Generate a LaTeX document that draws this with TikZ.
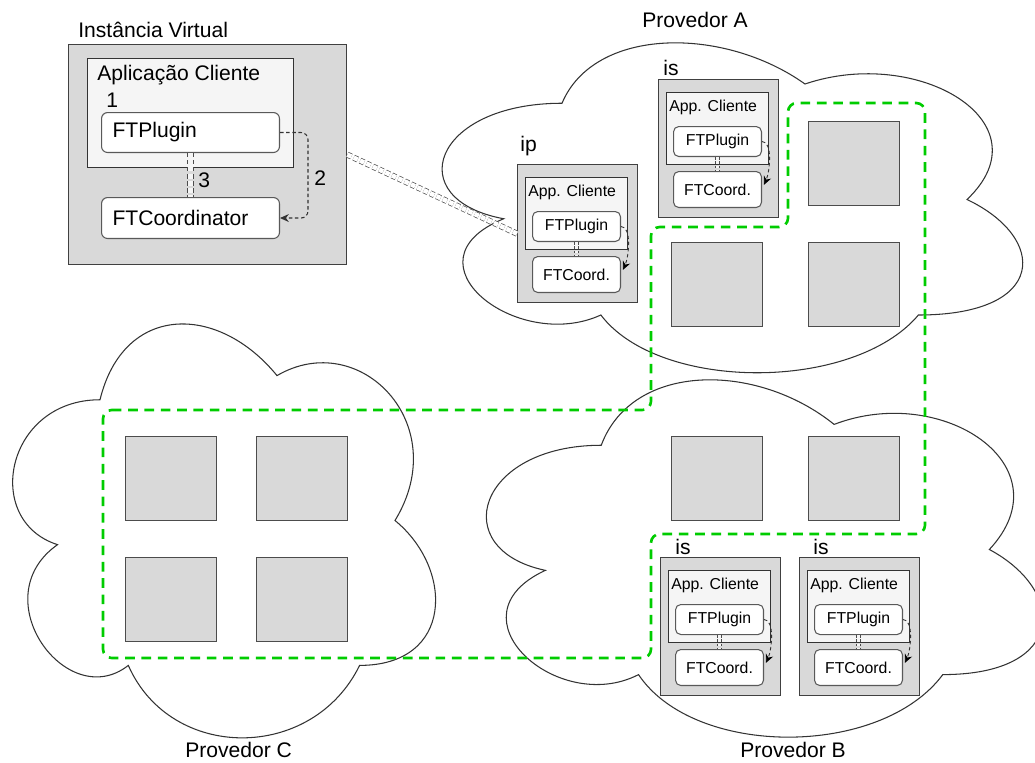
\documentclass[tikz,border=0pt]{standalone}
\usepackage{fontspec}
\setmainfont{Liberation Sans}
\usetikzlibrary{arrows.meta}

\definecolor{bereichgruen}{RGB}{0,204,0}
\definecolor{kastengrau}{RGB}{217,217,217}
\definecolor{appgrau}{RGB}{245,245,245}

\newcommand\schriftgross{\fontsize{12}{14}\selectfont}
\newcommand\schriftklein{\fontsize{9}{11}\selectfont}

\tikzset{
	wolke/.style={draw=black!80,fill=white,line width=0.6pt},
	bereich/.style={draw=bereichgruen,line width=1.5pt,dash pattern=on 5.5pt off 3.8pt,rounded corners=5pt},
	kasten/.style={draw=black!75,fill=kastengrau,line width=0.8pt,anchor=north west,inner sep=0pt},
	app/.style={draw=black!80,fill=appgrau,line width=0.7pt,anchor=north west,inner sep=0pt},
	modul/.style={draw=black!65,fill=white,rounded corners=3pt,line width=0.6pt,anchor=north west,inner sep=0pt,font=\schriftklein},
	grossmodul/.style={modul,font=\schriftgross,rounded corners=3.5pt,inner xsep=0.22cm,text width=3.12cm,align=left},
	quadrat/.style={draw=black!70,fill=kastengrau,line width=0.8pt,anchor=north west,inner sep=0pt,minimum width=1.82cm,minimum height=1.68cm},
	gross/.style={font=\schriftgross,inner sep=0pt,anchor=base west},
	klein/.style={font=\schriftklein,inner sep=0pt,anchor=base west},
	doppel/.style={draw=black!70,line width=0.4pt,double=white,double distance=2.6pt,dash pattern=on 2.5pt off 1.5pt},
	doppelklein/.style={doppel,double=appgrau,double distance=2pt,dash pattern=on 1.5pt off 1pt},
	pfeil/.style={->,draw=black!80,line width=0.6pt,dash pattern=on 2pt off 1.5pt},
	pfeilklein/.style={pfeil,-{Stealth[length=5pt,width=4.5pt,black]},line width=0.5pt}
}

\def\d{0.02}

\def\wolke#1#2#3#4{
	\draw[wolke] ({(#1+0.25*#3)*\d},{(#2+0.25*#4)*\d})
	.. controls ({(#1+0.05*#3)*\d},{(#2+0.25*#4)*\d}) and ({#1*\d},{(#2+0.5*#4)*\d}) .. ({(#1+0.16*#3)*\d},{(#2+0.55*#4)*\d})
	.. controls ({#1*\d},{(#2+0.66*#4)*\d}) and ({(#1+0.18*#3)*\d},{(#2+0.9*#4)*\d}) .. ({(#1+0.31*#3)*\d},{(#2+0.8*#4)*\d})
	.. controls ({(#1+0.4*#3)*\d},{(#2+#4)*\d}) and ({(#1+0.7*#3)*\d},{(#2+#4)*\d}) .. ({(#1+0.8*#3)*\d},{(#2+0.8*#4)*\d})
	.. controls ({(#1+#3)*\d},{(#2+0.8*#4)*\d}) and ({(#1+#3)*\d},{(#2+0.6*#4)*\d}) .. ({(#1+0.875*#3)*\d},{(#2+0.5*#4)*\d})
	.. controls ({(#1+#3)*\d},{(#2+0.3*#4)*\d}) and ({(#1+0.8*#3)*\d},{(#2+0.1*#4)*\d}) .. ({(#1+0.625*#3)*\d},{(#2+0.2*#4)*\d})
	.. controls ({(#1+0.5*#3)*\d},{(#2+0.05*#4)*\d}) and ({(#1+0.3*#3)*\d},{(#2+0.05*#4)*\d}) .. cycle;
}

\def\instanz#1#2#3{
	\node[kasten,minimum width=2.4cm,minimum height=2.76cm] (#3) at ({#1*\d},{#2*\d}) {};
	\node[app,minimum width=2.04cm,minimum height=1.44cm] (#3app) at ({(#1+8)*\d},{(#2+13)*\d}) {};
	\node[klein] (#3txt) at ({(#1+11)*\d},{(#2+32)*\d}) {App. Cliente};
	\node[modul,minimum width=1.76cm,minimum height=0.6cm] (#3plug) at ({(#1+15)*\d},{(#2+47)*\d}) {FTPlugin};
	\node[modul,minimum width=1.76cm,minimum height=0.72cm] (#3coord) at ({(#1+15)*\d},{(#2+92)*\d}) {FTCoord.};
	\draw[doppelklein] (#3plug) -- (#3coord);
	\draw[pfeilklein] (#3plug.east) .. controls +(0.22,0) and +(0.12,-0.26) .. ([xshift=1pt,yshift=-0.28cm]#3coord.north east);
}

\begin{document}
\begin{tikzpicture}[y=-1cm]

\useasboundingbox (0,0) rectangle ({1035*\d},{763*\d});

% Provedores
\wolke{400}{7}{648}{385}
\wolke{446}{341}{621}{417}
\wolke{-18}{279}{472}{483}

\node[gross] (provA) at ({642*\d},{27*\d}) {Provedor A};
\node[gross] (provB) at ({740*\d},{757*\d}) {Provedor B};
\node[gross] (provC) at ({185*\d},{757*\d}) {Provedor C};

% Bereich
\draw[bereich] ({103*\d},{410*\d}) -- ({651*\d},{410*\d}) -- ({651*\d},{227*\d})
-- ({788*\d},{227*\d}) -- ({788*\d},{103*\d}) -- ({925*\d},{103*\d})
-- ({925*\d},{534*\d}) -- ({651*\d},{534*\d}) -- ({651*\d},{658*\d})
-- ({103*\d},{658*\d}) -- cycle;

% freie Instanzen
\foreach \x/\y [count=\i] in {808/121,671/242,808/242,671/436,808/436,125/436,256/436,125/557,256/557}{
	\node[quadrat] (q\i) at ({\x*\d},{\y*\d}) {};
}

% Instanzen ip und is
\instanz{517}{164}{ip}
\instanz{658}{79}{isa}
\instanz{660}{557}{isb}
\instanz{799}{557}{isc}

\node[gross] (ipname) at ({520*\d},{151*\d}) {ip};
\node[gross] (isaname) at ({663*\d},{75*\d}) {is};
\node[gross] (isbname) at ({675*\d},{554*\d}) {is};
\node[gross] (iscname) at ({813*\d},{554*\d}) {is};

% Instancia Virtual
\node[kasten,minimum width=5.56cm,minimum height=4.4cm] (vm) at ({68*\d},{44*\d}) {};
\node[gross] (vmname) at ({78*\d},{37*\d}) {Instância Virtual};
\node[app,minimum width=4.12cm,minimum height=2.18cm] (vmapp) at ({87*\d},{58*\d}) {};
\node[gross] (vmapptxt) at ({97*\d},{80*\d}) {Aplicação Cliente};
\node[gross] (eins) at ({106*\d},{107*\d}) {1};
\node[grossmodul,minimum height=0.8cm] (vmplug) at ({101*\d},{112*\d}) {FTPlugin};
\node[grossmodul,minimum height=0.82cm] (vmcoord) at ({101*\d},{197*\d}) {FTCoordinator};

\draw[doppel,double=appgrau,double distance=3.2pt] (vmplug) -- (vmcoord);
\node[gross] (drei) at ({198*\d},{187*\d}) {3};
\draw[pfeil,-{Stealth[length=5pt,width=4.5pt]},rounded corners=4pt] (vmplug.east) -- ++(0.56,0) |- (vmcoord.east);
\node[gross] (zwei) at ({314*\d},{185*\d}) {2};

\draw[doppel] (vm.east) -- (ip.west);

\end{tikzpicture}
\end{document}
